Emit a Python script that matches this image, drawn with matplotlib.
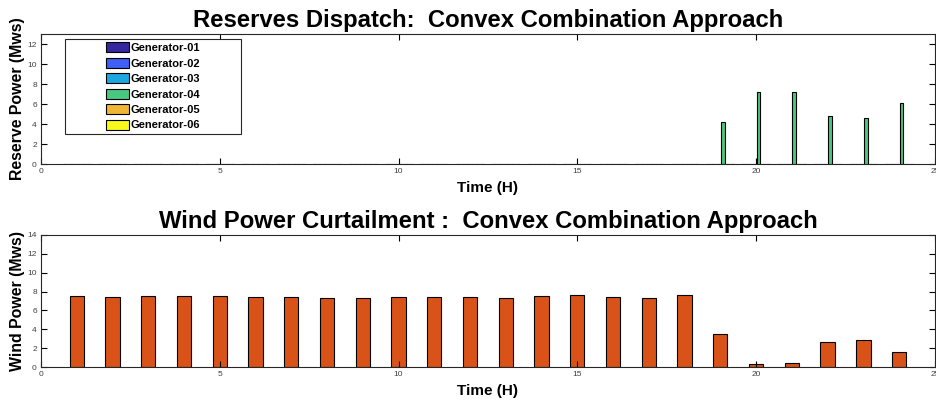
import numpy as np
import matplotlib.pyplot as plt
from matplotlib.patches import Rectangle

plt.rcParams['font.family'] = ['Liberation Sans', 'DejaVu Sans']

# =============================================================================
# Data
# =============================================================================
hours = np.arange(1, 25)

gen_names = ['Generator-01', 'Generator-02', 'Generator-03',
             'Generator-04', 'Generator-05', 'Generator-06']
gen_colors = ['#3527a0', '#3f5ff5', '#1ca7de', '#48c880', '#efb535', '#f8f81a']

# reserve dispatch per generator (Mws), hours 1..24
gen01 = [0] * 24
gen02 = [0] * 24
gen03 = [0] * 24
gen04 = [0] * 18 + [4.17, 7.2, 7.2, 4.85, 4.65, 6.08]
gen05 = [0] * 24
gen06 = [0] * 24
reserves = [gen01, gen02, gen03, gen04, gen05, gen06]

# curtailed wind power (Mws), hours 1..24
wind_curt = [7.48, 7.45, 7.50, 7.58, 7.48, 7.38, 7.45, 7.35, 7.28, 7.45, 7.47, 7.42,
             7.31, 7.56, 7.63, 7.45, 7.31, 7.67, 3.51, 0.36, 0.47, 2.69, 2.83, 1.54]


def matlab_axes(ax, ymax, yticks):
    ax.set_xlim(0, 25)
    ax.set_ylim(0, ymax)
    ax.set_xticks(np.arange(0, 26, 5))
    ax.set_yticks(yticks)
    ax.tick_params(direction='in', length=4, width=0.8, labelsize=6,
                   labelcolor='#404040', top=True, right=True, pad=3)
    for s in ax.spines.values():
        s.set_color('#262626')
        s.set_linewidth(0.8)


fig = plt.figure(figsize=(9.36, 4.05), dpi=100)

# =============================================================================
# Reserves
# =============================================================================
ax0 = fig.add_axes([0.0438, 0.595, 0.955, 0.321])
ngen = len(reserves)
gwidth = 0.8
bw = gwidth / ngen * 0.8
for i, (vals, name, col) in enumerate(zip(reserves, gen_names, gen_colors)):
    off = -gwidth / 2 + (i + 0.5) * gwidth / ngen
    ax0.bar(hours + off, vals, width=bw, color=col, edgecolor='black',
            linewidth=0.8, label=name)
matlab_axes(ax0, 13, np.arange(0, 13, 2))
ax0.set_title('Reserves Dispatch:  Convex Combination Approach',
              fontsize=17.2, fontweight='bold', pad=5)
ax0.set_xlabel('Time (H)', fontsize=11, fontweight='bold', labelpad=4)
ax0.set_ylabel('Reserve Power (Mws)', fontsize=11.4, fontweight='bold', labelpad=2)

# legend box (fixed size, entries centred inside)
ax0.add_patch(Rectangle((0.027, 0.233), 0.197, 0.727, transform=ax0.transAxes,
                        facecolor='white', edgecolor='#262626', linewidth=0.8,
                        zorder=4))
leg = ax0.legend(loc='center', bbox_to_anchor=(0.1255, 0.5965),
                 prop={'weight': 'bold', 'size': 8}, frameon=False,
                 handlelength=2.1, handleheight=1.0, labelspacing=0.42,
                 borderpad=0, handletextpad=0.15, borderaxespad=0)
leg.set_zorder(5)

# =============================================================================
# Wind curtailment
# =============================================================================
ax1 = fig.add_axes([0.0438, 0.0938, 0.955, 0.326])
ax1.bar(hours, wind_curt, width=0.4, color='#d95319', edgecolor='black', linewidth=0.8)
matlab_axes(ax1, 14, np.arange(0, 15, 2))
ax1.set_title('Wind Power Curtailment :  Convex Combination Approach',
              fontsize=17.2, fontweight='bold', pad=5)
ax1.set_xlabel('Time (H)', fontsize=11, fontweight='bold', labelpad=4)
ax1.set_ylabel('Wind Power (Mws)', fontsize=11.4, fontweight='bold', labelpad=2)

fig.savefig('out.png', dpi=100)
